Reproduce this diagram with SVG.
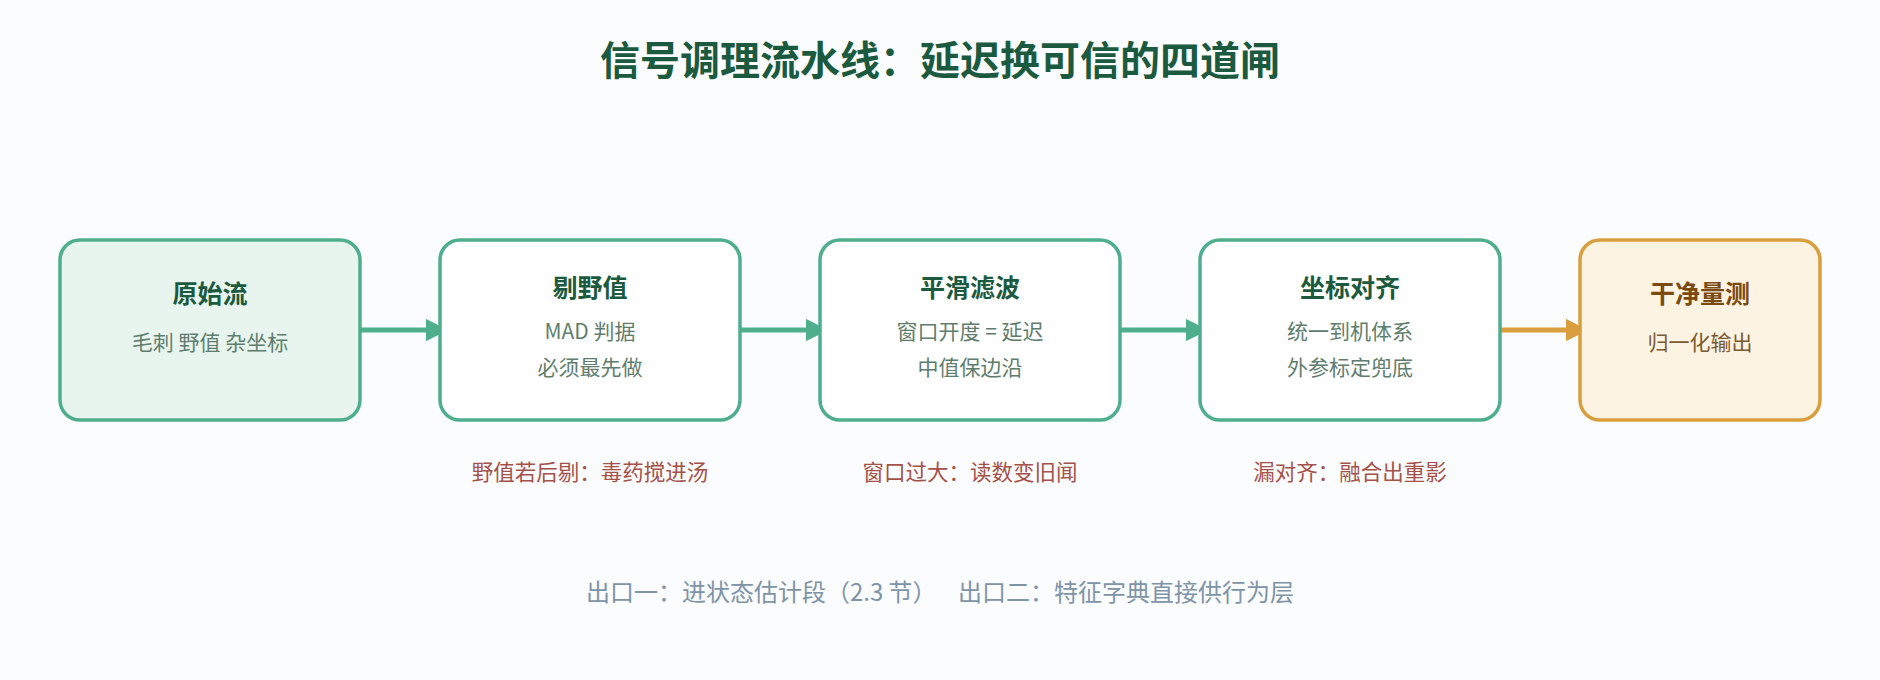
<svg xmlns="http://www.w3.org/2000/svg" width="1880" height="680" viewBox="0 0 1880 680">
<style>
text{font-family:"Noto Sans CJK SC","Noto Sans",sans-serif;text-anchor:middle}
.box{fill:#fff;stroke:#4fae8b;stroke-width:3.5}
.t{font-size:25px;font-weight:bold;fill:#1b5a3e}
.s{font-size:21px;fill:#5f7d6e}
.w{font-size:21.5px;fill:#a5514a}
.c{stroke:#4fae8b;stroke-width:5;fill:none}
</style>
<defs>
<marker id="ag" viewBox="0 0 10 10" refX="9" refY="5" markerWidth="4.5" markerHeight="4.5" orient="auto"><path d="M0,0L10,5L0,10z" fill="#4fae8b"/></marker>
<marker id="ao" viewBox="0 0 10 10" refX="9" refY="5" markerWidth="4.5" markerHeight="4.5" orient="auto"><path d="M0,0L10,5L0,10z" fill="#d99f3e"/></marker>
</defs>
<rect width="1880" height="680" fill="#fafcfe"/>
<text x="940" y="75" style="font-size:40px;font-weight:bold;fill:#1b5a3e">信号调理流水线：延迟换可信的四道闸</text>
<g id="connectors">
<line class="c" x1="361" y1="330" x2="446" y2="330" marker-end="url(#ag)"/>
<line class="c" x1="741" y1="330" x2="826" y2="330" marker-end="url(#ag)"/>
<line class="c" x1="1121" y1="330" x2="1206" y2="330" marker-end="url(#ag)"/>
<line x1="1501" y1="330" x2="1586" y2="330" stroke="#d99f3e" stroke-width="5" marker-end="url(#ao)"/>
</g>
<g id="n1"><rect class="box" x="60" y="240" width="300" height="180" rx="20" style="fill:#e8f5ee"/><text class="t" x="210" y="303">原始流</text><text class="s" x="210" y="350">毛刺 野值 杂坐标</text></g>
<g id="n2"><rect class="box" x="440" y="240" width="300" height="180" rx="20"/><text class="t" x="590" y="297">剔野值</text><text class="s" x="590" y="339">MAD 判据</text><text class="s" x="590" y="375">必须最先做</text></g>
<g id="n3"><rect class="box" x="820" y="240" width="300" height="180" rx="20"/><text class="t" x="970" y="297">平滑滤波</text><text class="s" x="970" y="339">窗口开度 = 延迟</text><text class="s" x="970" y="375">中值保边沿</text></g>
<g id="n4"><rect class="box" x="1200" y="240" width="300" height="180" rx="20"/><text class="t" x="1350" y="297">坐标对齐</text><text class="s" x="1350" y="339">统一到机体系</text><text class="s" x="1350" y="375">外参标定兜底</text></g>
<g id="n5"><rect x="1580" y="240" width="240" height="180" rx="20" fill="#fdf3e3" stroke="#d99f3e" stroke-width="3.5"/><text class="t" x="1700" y="303" style="fill:#7a4a10">干净量测</text><text class="s" x="1700" y="350" style="fill:#7a5a30">归一化输出</text></g>
<text class="w" x="590" y="480">野值若后剔：毒药搅进汤</text>
<text class="w" x="970" y="480">窗口过大：读数变旧闻</text>
<text class="w" x="1350" y="480">漏对齐：融合出重影</text>
<text x="940" y="601" xml:space="preserve" style="font-size:24px;fill:#8094a8">出口一：进状态估计段（2.3 节）    出口二：特征字典直接供行为层</text>
</svg>
